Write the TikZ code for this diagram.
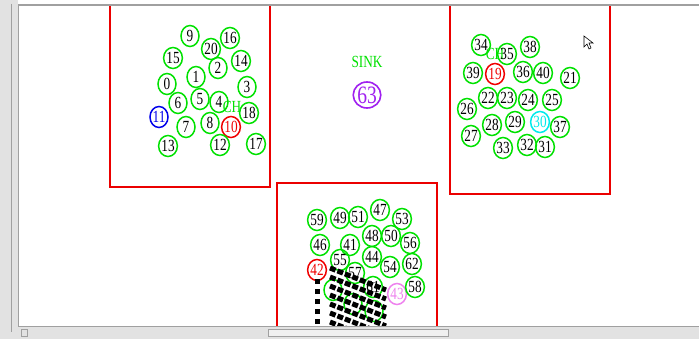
\documentclass[tikz,border=0pt]{standalone}
\usepackage{fontspec}
\usetikzlibrary{shapes.geometric}
\newfontfamily\namfont[FakeStretch=0.78]{Liberation Serif}
\definecolor{ng}{RGB}{0,225,0}
\definecolor{nr}{RGB}{240,0,0}
\definecolor{nbl}{RGB}{0,0,235}
\definecolor{ncy}{RGB}{0,235,235}
\definecolor{nvi}{RGB}{238,130,238}
\definecolor{npu}{RGB}{160,32,240}
\definecolor{clr}{RGB}{235,0,0}
\definecolor{winbg}{RGB}{226,226,226}
\definecolor{winln}{RGB}{160,160,160}
\tikzset{
  nd/.style={ellipse,line width=1.5pt,minimum width=18pt,minimum height=21pt,
    inner sep=0pt,font=\namfont\fontsize{17}{17}\selectfont},
  gn/.style={nd,draw=ng},
  rn/.style={nd,draw=nr,text=nr},
  bln/.style={nd,draw=nbl,text=nbl},
  cyn/.style={nd,draw=ncy,text=ncy},
  vn/.style={nd,draw=nvi,text=nvi},
  sinkn/.style={ellipse,draw=npu,text=npu,line width=1.6pt,minimum width=27pt,
    minimum height=26pt,inner sep=0pt,font=\namfont\fontsize{25}{25}\selectfont},
  lbl/.style={text=ng,inner sep=0pt,font=\namfont\fontsize{17}{17}\selectfont},
  clus/.style={draw=clr,line width=1.3pt},
  pkt/.style={line width=5pt,dash pattern=on 6pt off 2pt},
}

\begin{document}
\begin{tikzpicture}[x=1pt,y=-1pt]
  \useasboundingbox (0,0) rectangle (699,339);
  \fill[white] (0,0) rectangle (699,339);
  \begin{scope}
    \clip (19,6) rectangle (699,325);
    % cluster borders
    \draw[clus] (110,0) -- (110,187) -- (270,187) -- (270,0);
    \draw[clus] (450,0) -- (450,194) -- (610,194) -- (610,0);
    \draw[clus] (277,339) -- (277,183) -- (437,183) -- (437,339);
    % cluster 1
    \node[gn] (n9) at (190,36) {9};
    \node[gn] (n16) at (230,38) {16};
    \node[gn] (n20) at (211,49) {20};
    \node[gn] (n15) at (173,58) {15};
    \node[gn] (n14) at (241,61) {14};
    \node[gn] (n2) at (218,68) {2};
    \node[gn] (n1) at (196,77) {1};
    \node[gn] (n0) at (167,84) {0};
    \node[gn] (n3) at (247,87) {3};
    \node[gn] (n5) at (200,99) {5};
    \node[gn] (n4) at (219,102) {4};
    \node[gn] (n6) at (178,103) {6};
    \node[lbl] (ch1) at (232,107) {CH};
    \node[gn] (n18) at (249,113) {18};
    \node[bln] (n11) at (159,117) {11};
    \node[gn] (n7) at (186,127) {7};
    \node[gn] (n8) at (210,123) {8};
    \node[rn] (n10) at (231,127) {10};
    \node[gn] (n13) at (168,146) {13};
    \node[gn] (n12) at (220,145) {12};
    \node[gn] (n17) at (256,144) {17};
    % cluster 2
    \node[gn] (n34) at (481,45) {34};
    \node[lbl] (ch2) at (495,54) {CH};
    \node[gn] (n35) at (507,54) {35};
    \node[gn] (n38) at (530,47) {38};
    \node[gn] (n39) at (473,73) {39};
    \node[rn] (n19) at (495,74) {19};
    \node[gn] (n36) at (523,72) {36};
    \node[gn] (n40) at (543,73) {40};
    \node[gn] (n21) at (570,78) {21};
    \node[gn] (n22) at (488,98) {22};
    \node[gn] (n23) at (507,98) {23};
    \node[gn] (n24) at (528,100) {24};
    \node[gn] (n25) at (552,100) {25};
    \node[gn] (n26) at (467,109) {26};
    \node[gn] (n28) at (492,125) {28};
    \node[gn] (n29) at (515,122) {29};
    \node[cyn] (n30) at (540,122) {30};
    \node[gn] (n37) at (560,127) {37};
    \node[gn] (n27) at (471,136) {27};
    \node[gn] (n33) at (503,148) {33};
    \node[gn] (n32) at (527,145) {32};
    \node[gn] (n31) at (545,147) {31};
    % sink
    \node[lbl] (sinklbl) at (367,62) {SINK};
    \node[sinkn] (n63) at (367,95) {63};
    % cluster 3
    \node[gn] (n59) at (317,220) {59};
    \node[gn] (n49) at (340,218) {49};
    \node[gn] (n51) at (358,217) {51};
    \node[gn] (n47) at (380,210) {47};
    \node[gn] (n53) at (402,219) {53};
    \node[gn] (n46) at (320,245) {46};
    \node[gn] (n41) at (350,245) {41};
    \node[gn] (n48) at (372,236) {48};
    \node[gn] (n50) at (391,236) {50};
    \node[gn] (n56) at (410,243) {56};
    \node[gn] (n55) at (340,260) {55};
    \node[gn] (n44) at (372,257) {44};
    \node[gn] (n54) at (390,267) {54};
    \node[gn] (n62) at (412,264) {62};
    \node[rn] (n42) at (317,270) {42};
    \node[gn] (n57) at (355,273) {57};
    \node[gn] (n61) at (373,287) {61};
    \node[gn] (h1) at (333,290) {};
    \node[gn] (h2) at (353,304) {};
    \node[gn] (h3) at (374,311) {};
    \node[vn] (n43) at (397,294) {43};
    \node[gn] (n58) at (415,287) {58};
    % packets
    \draw[pkt,dash pattern=on 5pt off 5pt] (317,279) -- (317,330);
    \foreach \k in {0,...,6}
      \draw[pkt] (330,{268+9*\k}) -- (386,{290+9*\k});
    % pointer
    \draw[line width=0.6pt,fill=white] (584,36) -- (584,47) -- (587,44) -- (589,49)
      -- (591,48) -- (589,43) -- (593,43) -- cycle;
  \end{scope}
  % window frame
  \fill[winbg] (0,0) rectangle (18,339);
  \draw[winln] (11,4) -- (11,332);
  \draw[winln] (18,5) -- (18,326);
  \draw[winln,line width=1.5pt] (18,5) -- (699,5);
  \fill[winbg] (18,326) rectangle (699,339);
  \draw[winln] (18,326) -- (699,326);
  \draw[winln,fill=winbg!50] (268,329) rectangle (448,336);
  \draw[winln] (21,329) rectangle (27,336);
\end{tikzpicture}
\end{document}
